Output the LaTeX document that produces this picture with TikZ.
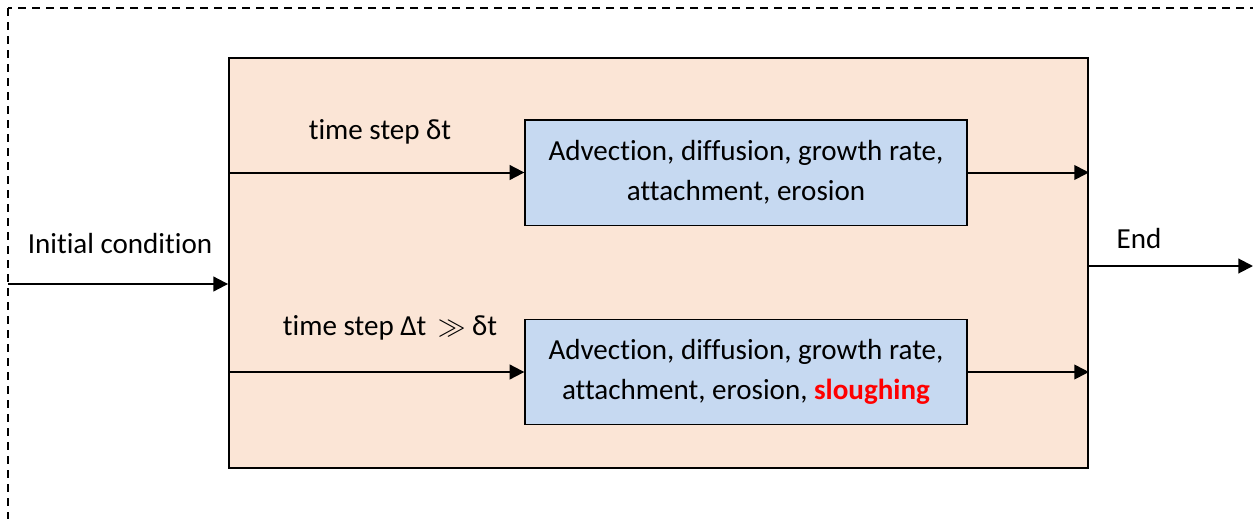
\documentclass[tikz,border=0pt]{standalone}
\usepackage{fontspec}
\setmainfont[Ligatures=NoCommon]{Carlito}
\usetikzlibrary{arrows.meta}
\definecolor{peach}{HTML}{FBE5D6}
\definecolor{lblue}{HTML}{C6D9F1}
\definecolor{sred}{HTML}{FF0000}
\begin{document}
\begin{tikzpicture}[x=0.75pt,y=-0.75pt,
  txt/.style={font=\fontsize{21.8}{30}\selectfont},
  outerbox/.style={draw,line width=1.4pt,fill=peach,minimum width=644.25pt,minimum height=307.5pt,inner sep=0pt},
  procbox/.style={draw,line width=1pt,fill=lblue,minimum width=331.5pt,minimum height=79pt,align=center,inner sep=0pt,txt},
  conn/.style={line width=1.5pt,-{Triangle[length=11pt,width=11pt]}},
  lbl/.style={txt,inner sep=0pt,anchor=base}]
\useasboundingbox (0,0) rectangle (1253,518);
\draw[line width=1.1pt,dash pattern=on 6pt off 4.5pt] (8,8) rectangle (1270,540);
\node[outerbox] (outer) at (658.5,263) {};
\node[procbox] (b1) at (746,172.5) {Advection, diffusion, growth rate,\\attachment, erosion};
\node[procbox] (b2) at (746,372) {Advection, diffusion, growth rate,\\attachment, erosion, \textbf{\color{sred}sloughing}};
\coordinate (start) at (8,284);
\coordinate (finish) at (1253,266);
\draw[conn] (outer.west |- b1.west) -- (b1.west);
\draw[conn] (b1.east) -- (outer.east |- b1.east);
\draw[conn] (outer.west |- b2.west) -- (b2.west);
\draw[conn] (b2.east) -- (outer.east |- b2.east);
\draw[conn] (start) -- (outer.west |- start);
\draw[conn] (outer.east |- finish) -- (finish);
\node[lbl] (l1) at (380,139) {time step δt};
\node[lbl] (l2) at (390,335) {time step Δt \,$\gg$ δt};
\node[lbl] (l3) at (120,253) {Initial condition};
\node[lbl] (l4) at (1139,248) {End};
\end{tikzpicture}
\end{document}
